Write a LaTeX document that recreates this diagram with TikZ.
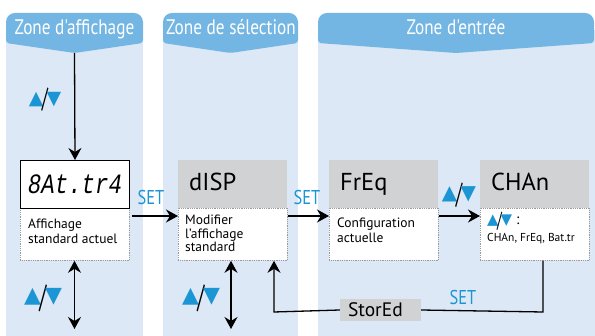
\documentclass[tikz,border=0pt]{standalone}
\usepackage{fontspec}
\setmainfont{PT Sans}
\newfontfamily\cond[FakeStretch=0.82]{PT Sans}
\newfontfamily\sym{DejaVu Sans}
\newfontfamily\segfont{Liberation Mono}
\usetikzlibrary{arrows.meta}
\definecolor{tabblue}{HTML}{74B6E3}
\definecolor{panelbg}{HTML}{DCE8F6}
\definecolor{setcyan}{HTML}{1B95D3}
\definecolor{boxgray}{HTML}{D1D2D4}
\definecolor{dotgray}{HTML}{9A9A9A}
\newcommand{\updown}{\textcolor{setcyan}{\sym ▲}\kern-1.5pt\raisebox{-0.2em}{\scalebox{0.9}[1.45]{/}}\kern-1.5pt\textcolor{setcyan}{\sym ▼}}
\begin{document}
\begin{tikzpicture}[x=1pt,y=-1pt,
  arr/.style={line width=1.3pt, -{Stealth[length=12pt,width=13pt,inset=4pt]}},
  darr/.style={line width=1.3pt, {Stealth[length=12pt,width=13pt,inset=4pt]}-{Stealth[length=12pt,width=13pt,inset=4pt]}},
  conn/.style={line width=1.3pt},
  tab/.style={fill=tabblue},
  panel/.style={fill=panelbg},
  header/.style={anchor=base, text=white, inner sep=0, font=\cond\fontsize{21}{24}\selectfont},
  settext/.style={anchor=base, text=setcyan, font=\cond\fontsize{20}{22}\selectfont, inner sep=0},
  topbox/.style={anchor=north west, minimum width=109pt, minimum height=48pt, text width=87pt, inner xsep=11pt, inner ysep=0pt, align=left, text height=17pt, text depth=4pt, font=\fontsize{24.5}{26}\selectfont},
  graytop/.style={topbox, fill=boxgray},
  lowbox/.style={anchor=north west, minimum width=109pt, minimum height=52pt, inner sep=0, fill=white, draw=dotgray, densely dotted, line width=0.8pt},
  lowtext/.style={anchor=north west, inner sep=0, align=left, font=\fontsize{13.5}{14.5}\selectfont},
  updn/.style={inner sep=0},
]
\useasboundingbox (0,0) rectangle (595,336);
% panels
\fill[panel] (6,30) rectangle (143,336);
\fill[panel] (163,30) rectangle (298,336);
\fill[panel] (318,30) rectangle (595,336);
% tabs
\fill[tab, rounded corners=9pt] (6,36) -- (6,13) -- (143,13) -- (143,36) -- cycle;
\fill[tab, rounded corners=3pt] (6,25) -- (6,43) -- (74.5,53) -- (143,43) -- (143,25) -- cycle;
\fill[tab, rounded corners=9pt] (163,36) -- (163,13) -- (298,13) -- (298,36) -- cycle;
\fill[tab, rounded corners=3pt] (163,25) -- (163,43) -- (230.5,53) -- (298,43) -- (298,25) -- cycle;
\fill[tab, rounded corners=9pt] (318,36) -- (318,13) -- (594,13) -- (594,36) -- cycle;
\fill[tab, rounded corners=3pt] (318,25) -- (318,43) -- (456,53) -- (594,43) -- (594,25) -- cycle;
\node[header] (h1) at (74.5,35) {Zone d'affichage};
\node[header] (h2) at (231,35) {Zone de sélection};
\node[header] (h3) at (456,35) {Zone d'entrée};
% boxes
\node[lowbox] (b1l) at (20,208) {};
\node[topbox, fill=white, draw=black, line width=1pt] (b1t) at (20,160) {};
\node[inner sep=0] (seg) at (b1t.center) {\scalebox{0.8}[1]{\segfont\itshape\fontsize{28}{28}\selectfont 8At.tr4}};
\node[lowtext] (t1) at (28,219) {Affichage\\standard actuel};

\node[lowbox] (b2l) at (178,208) {};
\node[graytop] (b2t) at (178,160) {dISP};
\node[lowtext, font=\fontsize{13.5}{13.5}\selectfont] (t2) at (185,215) {Modifier\\l'affichage\\standard};

\node[lowbox] (b3l) at (329,208) {};
\node[graytop] (b3t) at (329,160) {FrEq};
\node[lowtext] (t3) at (337,218) {Configuration\\actuelle};

\node[lowbox] (b4l) at (480,208) {};
\node[graytop] (b4t) at (480,160) {CHAn};
\node[lowtext, font=\fontsize{11.5}{13}\selectfont] (t4) at (487,212) {{\fontsize{15}{15}\selectfont\updown\ :}\\[2pt]CHAn, FrEq, Bat.tr};

% StorEd
\node[fill=boxgray, minimum width=81pt, minimum height=22pt, text width=65pt, inner xsep=8pt, inner ysep=0, align=left, font=\fontsize{19.5}{20}\selectfont, text height=13.5pt, text depth=0pt] (st) at (380.5,310) {StorEd};

% labels
\node[updn, font=\fontsize{19}{19}\selectfont] (ud1) at (45,100) {\updown};
\node[updn, font=\fontsize{22}{22}\selectfont] (ud2) at (43,298) {\updown};
\node[updn, font=\fontsize{22}{22}\selectfont] (ud3) at (201,298) {\updown};
\node[updn, font=\fontsize{20}{20}\selectfont] (ud4) at (459,195) {\updown};
\node[settext] (s1) at (151,205) {SET};
\node[settext] (s2) at (307,205) {SET};
\node[settext] (s3) at (463,305) {SET};

% connectors
\coordinate (tip1) at (74.5,53);
\draw[arr] (tip1) -- (b1t.north);
\draw[arr] ([xshift=2pt,yshift=-8pt]b1l.north east) -- ([yshift=-8pt]b2l.north west);
\draw[arr] ([yshift=-8pt]b2l.north east) -- ([yshift=-8pt]b3l.north west);
\draw[arr] ([yshift=-8pt]b3l.north east) -- ([yshift=-8pt]b4l.north west);
\coordinate (d1) at (74.5,329);
\draw[darr] (d1 |- b1l.south) -- (d1);
\coordinate (d2) at (231,329);
\draw[darr] (d2 |- b2l.south) -- (d2);
\coordinate (r1) at (543,312);
\coordinate (r2) at (274,312);
\draw[conn] (r1 |- b4l.south) -- (r1) -- (st.east);
\draw[arr] (st.west) -- (r2) -- (r2 |- b2l.south);
\end{tikzpicture}
\end{document}
